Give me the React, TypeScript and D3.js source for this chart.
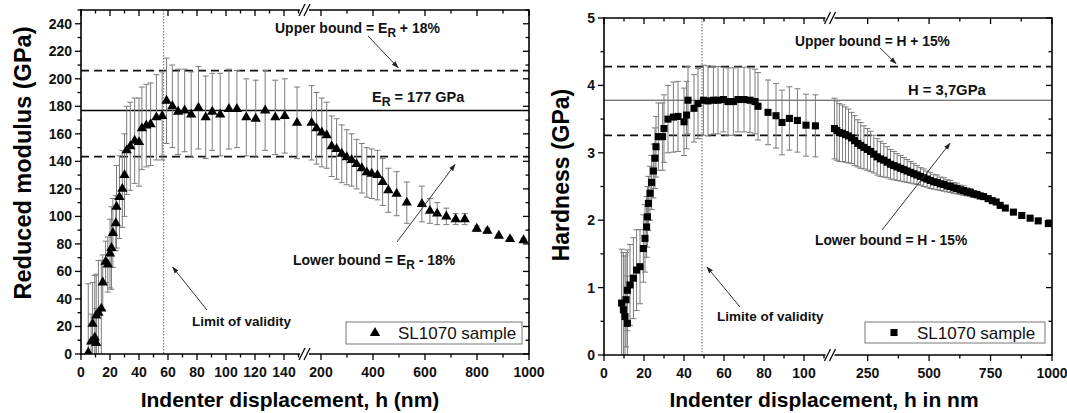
import React, { useEffect, useRef } from 'react';
import * as d3 from 'd3';

// ---- reduced modulus (left chart) ----
const modH = [5, 7, 8, 9.5, 10.5, 10.5, 12, 14, 15, 17, 18.5, 20, 21, 22, 24, 24.5, 26.5, 28.5, 30, 31.5,
  34, 37, 40, 42, 45, 48, 52, 56, 59, 63, 67, 71.5, 76, 81, 86, 90.5, 96, 102, 107.5, 114, 120.5, 127, 134, 140.5, 149,
  164, 183, 203, 222, 241, 260, 280, 299, 318, 337, 357, 376, 395, 417, 437, 459, 491, 530, 588, 619, 647, 682, 718, 753,
  799, 840, 884, 927, 979];
const modE = [1, 9, 22, 12, 8, 28, 30, 33, 52, 67, 65, 73, 77, 88, 95, 107, 114, 120, 130, 148,
  151, 155, 154, 164, 166, 167, 172, 173, 184, 180, 176, 177, 174, 179, 172, 176, 174, 178, 178, 172, 171, 177, 172, 173, 168,
  168, 164, 161, 159, 151, 149, 145.5, 143, 141, 138, 135, 132, 131, 130, 125, 119, 116.5, 110, 109, 104, 102, 100, 98, 98,
  91, 89.5, 86, 83.5, 82.7];
const modErr = [50, 20, 30, 45, 25, 30, 38, 35, 20, 15, 20, 25, 30, 25, 20, 30, 30, 28, 30, 32,
  32, 31, 32, 30, 30, 30, 31, 32, 31, 30, 31, 30, 31, 30, 30, 28, 30, 29, 28, 28, 28, 29, 27, 27, 26,
  27, 26, 25, 24, 22, 22, 21, 20, 19, 18, 18, 18, 18, 18, 17, 16, 16, 15, 13, 9, 8, 6, 4, 4,
  2, 2, 1, 1, 1];
const modRef = 177;
const modUpper = 206;
const modLower = 143.5;
const modValidity = 57;

// ---- hardness (right chart) ----
const hardH = [8.8, 9.7, 10.5, 11.7, 11, 11.7, 13, 14.7, 16.3, 18, 19.7, 20.5, 21.3, 21.7, 22.2, 23, 23.8, 24.7, 25.5, 26,
  27.2, 29.3, 30, 32, 34.7, 37, 40, 41.3, 42, 45, 47, 49.7, 52, 54.7, 57, 59.7, 62, 64.7, 67, 70, 73, 75.5, 77, 82, 86, 89,
  92.7, 96.7, 101, 105.7,
  115, 125, 135, 148, 160, 172, 185, 197, 210, 222, 235, 249, 262, 275, 289, 302, 316, 330, 343, 357, 370, 384, 398, 411,
  425, 438, 451, 465, 478, 492, 505, 519, 533, 546, 560, 573, 586, 600, 613, 627, 640, 654, 668, 681, 695, 708, 722, 740,
  757, 773, 789, 810, 843, 877, 911, 944, 985];
const hardV = [0.77, 0.67, 0.57, 0.47, 0.82, 0.96, 1.04, 1.14, 1.26, 1.31, 1.58, 1.73, 1.9, 2.05, 2.25, 2.4, 2.56, 2.73, 2.92, 3.09,
  3.24, 3.24, 3.36, 3.5, 3.53, 3.54, 3.46, 3.56, 3.78, 3.66, 3.73, 3.78, 3.77, 3.78, 3.78, 3.79, 3.76, 3.76, 3.79, 3.79, 3.78, 3.76, 3.69, 3.6, 3.55, 3.45,
  3.51, 3.48, 3.41, 3.4,
  3.36, 3.33, 3.3, 3.29, 3.27, 3.25, 3.22, 3.18, 3.14, 3.11, 3.08, 3.05, 3.02, 2.98, 2.94, 2.91, 2.89, 2.86, 2.83, 2.81, 2.79, 2.77, 2.75, 2.73,
  2.71, 2.69, 2.67, 2.65, 2.63, 2.61, 2.59, 2.57, 2.56, 2.54, 2.53, 2.51, 2.5, 2.48, 2.47, 2.45, 2.44, 2.42, 2.41, 2.39, 2.38, 2.36, 2.35, 2.32,
  2.29, 2.27, 2.22, 2.18, 2.12, 2.07, 2.03, 1.99, 1.95];
const hardErr = [0.8, 0.85, 0.9, 0.7, 0.7, 0.6, 0.6, 0.6, 0.6, 0.55, 0.5, 0.5, 0.45, 0.45, 0.4, 0.4, 0.4, 0.4, 0.45, 0.45,
  0.5, 0.5, 0.5, 0.5, 0.52, 0.52, 0.5, 0.5, 0.5, 0.5, 0.52, 0.52, 0.52, 0.5, 0.5, 0.48, 0.5, 0.5, 0.48, 0.48, 0.48, 0.48, 0.5, 0.48, 0.48, 0.48,
  0.47, 0.47, 0.46, 0.46,
  0.45, 0.44, 0.43, 0.42, 0.41, 0.4, 0.38, 0.37, 0.35, 0.34, 0.32, 0.31, 0.3, 0.28, 0.27, 0.26, 0.25, 0.23, 0.22, 0.21, 0.2, 0.19, 0.18, 0.17,
  0.16, 0.15, 0.14, 0.13, 0.13, 0.12, 0.12, 0.11, 0.11, 0.1, 0.1, 0.09, 0.09, 0.08, 0.08, 0.07, 0.07, 0.06, 0.06, 0.05, 0.05, 0.04, 0.04, 0.03,
  0.03, 0.02, 0.02, 0, 0, 0, 0, 0, 0];
const hardRef = 3.78;
const hardUpper = 4.28;
const hardLower = 3.26;
const hardValidity = 49;

// ticks
const modYMajor = [0, 20, 40, 60, 80, 100, 120, 140, 160, 180, 200, 220, 240];
const modYMinor = [10, 30, 50, 70, 90, 110, 130, 150, 170, 190, 210, 230, 250];
const modXMajorA = [0, 20, 40, 60, 80, 100, 120, 140];
const modXMinorA = [10, 30, 50, 70, 90, 110, 130, 150];
const modXMajorB = [200, 400, 600, 800, 1000];
const modXMinorB = [300, 500, 700, 900];
const hardYMajor = [0, 1, 2, 3, 4, 5];
const hardYMinor = [0.5, 1.5, 2.5, 3.5, 4.5];
const hardXMajorA = [0, 20, 40, 60, 80, 100];
const hardXMinorA = [10, 30, 50, 70, 90, 110];
const hardXMajorB = [250, 500, 750, 1000];
const hardXMinorB = [375, 625, 875];

const FONT = 'Arial, "Liberation Sans", Helvetica, sans-serif';

function drawPanel(svg, p) {
  const { x0, x1, y0, y1 } = p.box;
  const xa = d3.scaleLinear().domain(p.segA).range(p.rangeA);
  const xb = d3.scaleLinear().domain(p.segB).range(p.rangeB);
  const x = (h) => (h <= p.segA[1] ? xa(h) : xb(h));
  const y = d3.scaleLinear().domain(p.yDomain).range([y1, y0]);

  const g = svg.append('g');
  const clipId = 'clip-' + p.id;
  svg.select('defs').append('clipPath').attr('id', clipId)
    .append('rect').attr('x', x0).attr('y', y0).attr('width', x1 - x0).attr('height', y1 - y0);

  const plot = g.append('g').attr('clip-path', `url(#${clipId})`);

  // reference lines
  plot.append('line').attr('x1', x0).attr('x2', x1).attr('y1', y(p.ref)).attr('y2', y(p.ref))
    .attr('stroke', p.refColor).attr('stroke-width', p.refWidth);
  [p.upper, p.lower].forEach(v => {
    plot.append('line').attr('x1', x0).attr('x2', x1).attr('y1', y(v)).attr('y2', y(v))
      .attr('stroke', '#111').attr('stroke-width', 1.8).attr('stroke-dasharray', '8,5');
  });
  plot.append('line').attr('x1', x(p.validity)).attr('x2', x(p.validity)).attr('y1', y0).attr('y2', y1)
    .attr('stroke', '#666').attr('stroke-width', 1).attr('stroke-dasharray', '1.5,1.5');

  const pts = p.h.map((h, i) => ({ h, v: p.v[i], e: p.err[i] }));

  // error bars
  const eb = plot.append('g').attr('stroke', '#7a7a7a').attr('stroke-width', 1);
  pts.filter(d => d.e > 0).forEach(d => {
    const cx = x(d.h);
    eb.append('line').attr('x1', cx).attr('x2', cx).attr('y1', y(d.v - d.e)).attr('y2', y(d.v + d.e));
    eb.append('line').attr('x1', cx - 3).attr('x2', cx + 3).attr('y1', y(d.v + d.e)).attr('y2', y(d.v + d.e));
    eb.append('line').attr('x1', cx - 3).attr('x2', cx + 3).attr('y1', y(d.v - d.e)).attr('y2', y(d.v - d.e));
  });

  // markers
  const sym = d3.symbol().type(p.symbol).size(p.symbolSize);
  plot.append('g').selectAll('path').data(pts).enter().append('path')
    .attr('d', sym)
    .attr('transform', d => `translate(${x(d.h)},${y(d.v)})`)
    .attr('fill', '#000');

  // frame with axis break
  const ax = g.append('g').attr('stroke', '#000').attr('stroke-width', 1.6).attr('fill', 'none');
  const bx = p.breakX;
  ax.append('line').attr('x1', x0).attr('x2', x0).attr('y1', y0 - 0.8).attr('y2', y1 + 0.8);
  ax.append('line').attr('x1', x1).attr('x2', x1).attr('y1', y0 - 0.8).attr('y2', y1 + 0.8);
  [y0, y1].forEach(yy => {
    ax.append('line').attr('x1', x0).attr('x2', bx - 4.5).attr('y1', yy).attr('y2', yy);
    ax.append('line').attr('x1', bx + 4.5).attr('x2', x1).attr('y1', yy).attr('y2', yy);
    [bx - 2.5, bx + 2.5].forEach(cx => {
      ax.append('line').attr('x1', cx - 3).attr('x2', cx + 3).attr('y1', yy + 6).attr('y2', yy - 6)
        .attr('stroke-width', 1.3);
    });
  });

  // ticks
  const tk = g.append('g').attr('stroke', '#000').attr('stroke-width', 1.3);
  const xMajor = [...p.xMajorA.map(xa), ...p.xMajorB.map(xb)];
  const xMinor = [...p.xMinorA.map(xa), ...p.xMinorB.map(xb)];
  xMajor.forEach(px => {
    tk.append('line').attr('x1', px).attr('x2', px).attr('y1', y1).attr('y2', y1 + 6);
    tk.append('line').attr('x1', px).attr('x2', px).attr('y1', y0).attr('y2', y0 + 6);
  });
  xMinor.forEach(px => {
    tk.append('line').attr('x1', px).attr('x2', px).attr('y1', y1).attr('y2', y1 + 3.5);
    tk.append('line').attr('x1', px).attr('x2', px).attr('y1', y0).attr('y2', y0 + 3.5);
  });
  p.yMajor.forEach(v => {
    tk.append('line').attr('x1', x0 - 6).attr('x2', x0).attr('y1', y(v)).attr('y2', y(v));
    tk.append('line').attr('x1', x1 - 6).attr('x2', x1).attr('y1', y(v)).attr('y2', y(v));
  });
  p.yMinor.forEach(v => {
    tk.append('line').attr('x1', x0 - 3.5).attr('x2', x0).attr('y1', y(v)).attr('y2', y(v));
    tk.append('line').attr('x1', x1 - 3.5).attr('x2', x1).attr('y1', y(v)).attr('y2', y(v));
  });

  const lbl = g.append('g').attr('font-family', FONT).attr('font-size', 14).attr('font-weight', 'bold').attr('fill', '#111');
  [...p.xMajorA.map(v => [xa(v), v]), ...p.xMajorB.map(v => [xb(v), v])].forEach(([px, v]) => {
    lbl.append('text').attr('x', px).attr('y', y1 + 23).attr('text-anchor', 'middle').text(String(v));
  });
  p.yMajor.forEach(v => {
    lbl.append('text').attr('x', x0 - 9).attr('y', y(v) + 5).attr('text-anchor', 'end').text(String(v));
  });

  // axis titles
  g.append('text').attr('x', p.xTitleX).attr('y', 407).attr('text-anchor', 'middle')
    .attr('font-family', FONT).attr('font-size', 21).attr('font-weight', 'bold').text(p.xTitle);
  g.append('text').attr('transform', `translate(${p.yTitleX},${p.yTitleY}) rotate(-90)`)
    .attr('text-anchor', 'middle').attr('font-family', FONT).attr('font-size', p.yTitleSize).attr('font-weight', 'bold')
    .text(p.yTitle);

  // legend
  const lg = p.legend;
  g.append('rect').attr('x', lg.x).attr('y', lg.y).attr('width', lg.w).attr('height', lg.h)
    .attr('fill', '#fff').attr('stroke', '#777').attr('stroke-width', 1);
  g.append('path').attr('d', sym).attr('transform', `translate(${lg.x + 29},${lg.y + lg.h / 2})`).attr('fill', '#000');
  g.append('text').attr('x', lg.x + 52).attr('y', lg.y + lg.h / 2 + 6).attr('font-family', FONT)
    .attr('font-size', 17).attr('fill', '#111').text('SL1070 sample');

  return { x, y, g };
}

// parts: [text, isSubscript]
function addLabel(g, px, py, parts, size) {
  const t = g.append('text').attr('x', px).attr('y', py).attr('font-family', FONT)
    .attr('font-size', size).attr('font-weight', 'bold').attr('fill', '#111');
  let prevSub = false;
  parts.forEach(([s, sub]) => {
    const span = t.append('tspan').text(s);
    if (sub) span.attr('dy', 4).attr('font-size', size * 0.85);
    else if (prevSub) span.attr('dy', -4);
    prevSub = !!sub;
  });
}

function addArrow(g, xA, yA, xB, yB) {
  g.append('line').attr('x1', xA).attr('y1', yA).attr('x2', xB).attr('y2', yB)
    .attr('stroke', '#333').attr('stroke-width', 1).attr('marker-end', 'url(#arrowhead)');
}

export default function App() {
  const ref = useRef(null);
  useEffect(() => {
    const svg = d3.select(ref.current);
    svg.selectAll('*').remove();
    const defs = svg.append('defs');
    defs.append('marker').attr('id', 'arrowhead').attr('viewBox', '0 0 10 10').attr('refX', 9).attr('refY', 5)
      .attr('markerWidth', 7).attr('markerHeight', 7).attr('orient', 'auto')
      .append('path').attr('d', 'M0,1.5 L10,5 L0,8.5 Z').attr('fill', '#222');

    const left = drawPanel(svg, {
      id: 'mod',
      box: { x0: 81, x1: 529, y0: 10, y1: 354 },
      segA: [0, 152], rangeA: [81, 301.4],
      segB: [150, 1000], rangeB: [308, 529],
      breakX: 304.5,
      yDomain: [0, 250],
      h: modH, v: modE, err: modErr,
      ref: modRef, upper: modUpper, lower: modLower, validity: modValidity,
      refColor: '#000', refWidth: 1.6,
      symbol: d3.symbolTriangle, symbolSize: 46,
      xMajorA: modXMajorA, xMinorA: modXMinorA, xMajorB: modXMajorB, xMinorB: modXMinorB,
      yMajor: modYMajor, yMinor: modYMinor,
      xTitle: 'Indenter displacement, h (nm)', xTitleX: 290,
      yTitle: 'Reduced modulus (GPa)', yTitleX: 31, yTitleY: 163, yTitleSize: 23.5,
      legend: { x: 346, y: 322, w: 176, h: 22 },
    });
    const lg = left.g;
    addLabel(lg, 275, 33, [['Upper bound = E'], ['R', true], [' + 18%']], 14);
    addArrow(lg, 368, 36, 398, left.y(modUpper) - 3);
    addLabel(lg, 372, 102, [['E'], ['R', true], [' = 177 GPa']], 14.5);
    addArrow(lg, 397, 242, 455, left.y(modLower) + 8);
    addLabel(lg, 293, 265, [['Lower bound = E'], ['R', true], [' - 18%']], 14);
    addLabel(lg, 192, 326, [['Limit of validity']], 13.5);
    addArrow(lg, 207, 310, left.x(modValidity) + 9, 267);

    const right = drawPanel(svg, {
      id: 'hard',
      box: { x0: 604, x1: 1052, y0: 18, y1: 355 },
      segA: [0, 112], rangeA: [604, 828],
      segB: [105, 1000], rangeB: [832, 1052],
      breakX: 830,
      yDomain: [0, 5],
      h: hardH, v: hardV, err: hardErr,
      ref: hardRef, upper: hardUpper, lower: hardLower, validity: hardValidity,
      refColor: '#444', refWidth: 1,
      symbol: d3.symbolSquare, symbolSize: 50,
      xMajorA: hardXMajorA, xMinorA: hardXMinorA, xMajorB: hardXMajorB, xMinorB: hardXMinorB,
      yMajor: hardYMajor, yMinor: hardYMinor,
      xTitle: 'Indenter displacement, h in nm', xTitleX: 824,
      yTitle: 'Hardness (GPa)', yTitleX: 569, yTitleY: 175, yTitleSize: 23,
      legend: { x: 865, y: 322, w: 180, h: 21 },
    });
    const rg = right.g;
    addLabel(rg, 795, 46, [['Upper bound = H + 15%']], 13.8);
    addArrow(rg, 880, 48, 896, right.y(hardUpper) - 3);
    addLabel(rg, 908, 95, [['H = 3,7GPa']], 14.8);
    addArrow(rg, 882, 230, 950, right.y(hardLower) + 8);
    addLabel(rg, 815, 245, [['Lower bound = H - 15%']], 13.8);
    addLabel(rg, 717, 321, [['Limite of validity']], 13.5);
    addArrow(rg, 740, 307, right.x(hardValidity) + 5, 267);
  }, []);

  return (
    <svg ref={ref} width={1067} height={413}
      style={{ position: 'absolute', left: 0, top: 0, background: '#fff' }} />
  );
}
